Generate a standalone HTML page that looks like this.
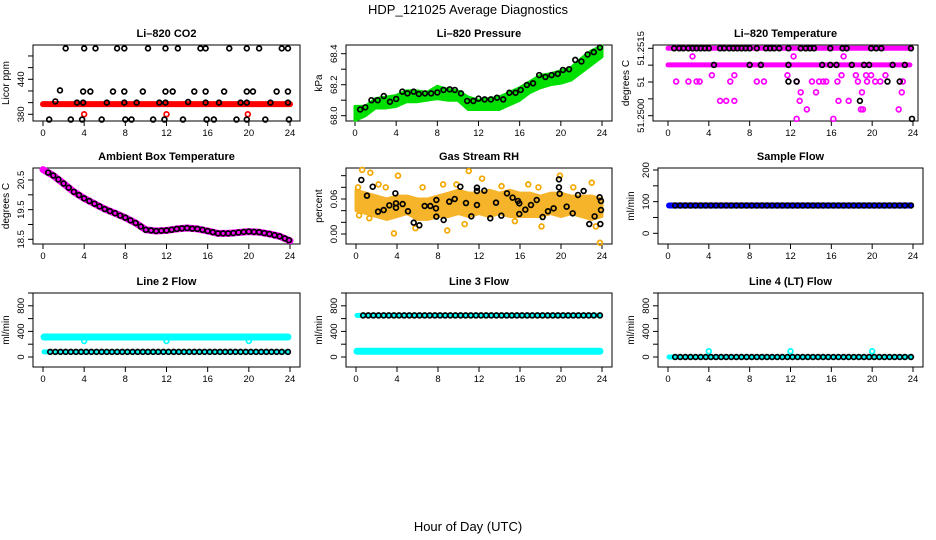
<!DOCTYPE html>
<html><head><meta charset="utf-8"><style>
html,body{margin:0;padding:0;background:#fff;}
svg{display:block;font-family:"Liberation Sans",sans-serif;}
</style></head><body>
<svg id="c" width="936" height="540" viewBox="0 0 936 540">
<text x="468" y="14" text-anchor="middle" font-size="13">HDP_121025  Average Diagnostics</text>
<text x="468" y="531" text-anchor="middle" font-size="13">Hour of Day (UTC)</text>
</svg>
<script>
// ---------- data ----------
const hoursHourly = [0,1,2,3,4,5,6,7,8,9,10,11,12,13,14,15,16,17,18,19,20,21,22,23,24];
const xTicks = [0,4,8,12,16,20,24];

// CO2
const co2RedHours = [0,24];
const co2RedVals = [397.5,397.5];
const co2TopHours = [2.2,4.0,5.1,7.2,7.9,10.2,11.9,13.1,15.3,15.8,18.1,19.8,21.0,23.2,23.8];
const co2TopVals = [493,493,493,493,493,493,493,493,493,493,493,493,493,493,493];
const co2MidHours = [1.65,3.9,4.6,6.8,7.9,9.7,11.9,12.6,14.7,15.8,17.6,19.8,20.4,22.7,23.8];
const co2MidVals = [421,419,419,419,419,419,419,419,419,419,419,419,419,419,419];
const co2LowHours = [1.2,3.3,3.9,6.2,7.9,9.1,11.3,11.9,14.1,15.8,17.1,19.2,19.8,22.1,23.8];
const co2LowVals = [402,400,400,400,400,400,400,400,401,400,400,400,400,400,400];
const co2BotHours = [0.6,2.7,3.8,5.7,8.0,8.6,10.7,11.8,13.6,15.9,16.6,18.8,19.8,21.6,23.9];
const co2BotVals = [371,371,371,371,371,371,371,371,371,371,371,371,371,371,371];
const co2RedPtHours = [4.0,12.0,19.9];
const co2RedPtVals = [380,380,380];

// Pressure
const presLo = [67.97,68.0,68.05,68.05,68.06,68.09,68.09,68.1,68.11,68.1,68.1,68.04,68.04,68.04,68.04,68.07,68.1,68.15,68.18,68.2,68.21,68.23,68.28,68.33,68.38];
const presHi = [68.06,68.06,68.11,68.12,68.13,68.16,68.16,68.15,68.19,68.17,68.16,68.12,68.1,68.11,68.12,68.15,68.18,68.22,68.26,68.27,68.29,68.31,68.37,68.42,68.45];
const presPtHours = [0.5,1,1.6,2.2,2.8,3.4,4,4.6,5.1,5.7,6.2,6.8,7.4,8,8.6,9.2,9.7,10.3,10.9,11.5,12,12.6,13.2,13.8,14.4,15,15.6,16.1,16.7,17.3,17.9,18.5,19.1,19.7,20.2,20.8,21.4,22,22.6,23.2,23.8];
const presPtVals = [68.04,68.054,68.10,68.10,68.127,68.09,68.108,68.155,68.144,68.155,68.14,68.144,68.144,68.15,68.166,68.17,68.166,68.144,68.095,68.095,68.11,68.105,68.105,68.116,68.105,68.148,68.148,68.166,68.198,68.209,68.262,68.25,68.262,68.27,68.295,68.30,68.36,68.35,68.395,68.41,68.44];

// Li-820 temperature
const tBand1Hours = [0,23.8];
const tBand1Vals = [51.2515,51.2515];
const tBand2Hours = [0,23.7];
const tBand2Vals = [51.25113,51.25113];
const tMagHours = [2.4,4.3,0.8,2.0,2.8,3.1,5.1,5.7,6.5,6.1,6.5,8.7,9.4,11.7,12.3,12.6,13.0,12.9,13.6,14.1,14.5,14.8,15.2,15.5,16.6,16.7,17.0,17.2,17.7,18.4,18.6,19.0,18.9,19.1,19.4,19.5,19.9,20.3,20.8,21.3,22.6,22.9,23.0,12.6,16.2];
const tMagVals = [51.25132,51.2509,51.25076,51.25076,51.25076,51.25076,51.25033,51.25033,51.25033,51.25076,51.2509,51.25076,51.25076,51.2509,51.25132,51.25076,51.25052,51.25033,51.25014,51.25076,51.25052,51.25076,51.25076,51.25076,51.25076,51.25033,51.2509,51.25132,51.25033,51.2509,51.25076,51.25052,51.25014,51.25014,51.2509,51.25076,51.2509,51.25076,51.25076,51.2509,51.25014,51.25052,51.25076,51.24993,51.24993];
const tBlkTopHours = [0.6,1.1,1.5,2.0,2.4,2.8,3.2,3.6,4.0,5.1,5.5,6.0,6.4,6.8,7.2,7.6,8.0,8.7,9.6,10.0,10.4,10.9,11.8,13.0,13.5,13.9,14.3,15.9,17.1,17.5,19.9,20.4,20.9,23.8];
const tBlkMidHours = [4.5,8.0,9.1,11.8,15.1,15.9,16.5,18.0,19.2,19.7,22.0,23.2];
const tBlkLowHours = [11.8,12.6,21.5,22.7,18.8,23.9];
const tBlkLowVals = [51.25076,51.25076,51.25076,51.25076,51.25033,51.24993];

// Ambient box temperature
const ambCurve = [20.85,20.65,20.38,20.1,19.88,19.7,19.52,19.38,19.23,19.05,18.82,18.78,18.8,18.85,18.88,18.85,18.78,18.7,18.7,18.73,18.76,18.74,18.68,18.6,18.45];
const ambPtHours = [0.5,1,1.5,2,2.5,3,3.5,4,4.5,5,5.5,6,6.5,7,7.5,8,8.5,9,9.5,10,10.5,11,11.5,12,12.5,13,13.5,14,14.5,15,15.5,16,16.5,17,17.5,18,18.5,19,19.5,20,20.5,21,21.5,22,22.5,23,23.5,23.9];
const ambPtVals = [20.75,20.65,20.52,20.38,20.24,20.1,19.99,19.88,19.79,19.7,19.61,19.52,19.45,19.38,19.3,19.23,19.14,19.05,18.93,18.82,18.8,18.78,18.79,18.8,18.82,18.85,18.87,18.88,18.86,18.85,18.82,18.78,18.74,18.7,18.7,18.7,18.71,18.73,18.75,18.76,18.75,18.74,18.71,18.68,18.64,18.6,18.53,18.47];

// Gas stream RH
const rhLo = [0.04,0.035,0.03,0.025,0.03,0.035,0.025,0.025,0.03,0.03,0.035,0.03,0.035,0.03,0.035,0.03,0.03,0.03,0.03,0.035,0.03,0.035,0.03,0.025,0.03];
const rhHi = [0.075,0.07,0.065,0.06,0.065,0.065,0.06,0.06,0.065,0.07,0.075,0.07,0.07,0.075,0.07,0.075,0.07,0.07,0.065,0.07,0.07,0.065,0.065,0.065,0.06];
const rhOrHours = [0.6,1.4,4.1,3.7,11,8.5,12.3,19.9,23,23.8,2.9,0.3,1.3,5.8,8.9,10.6,15.5,18.1,23.4,16.8,17.8,0.2,2.2,6.5,9.8,14.2,21.2];
const rhOrVals = [0.11,0.105,0.10,0.001,0.108,0.085,0.095,0.1,0.088,-0.015,0.08,0.032,0.027,0.01,0.006,0.017,0.022,0.013,0.013,0.085,0.08,0.08,0.085,0.08,0.085,0.082,0.08];
const rhBlkHours = [0.52,1.07,1.63,2.15,2.7,3.25,3.9,3.9,3.84,4.55,5.07,5.63,6.18,6.7,7.25,7.8,7.84,7.84,8.55,9.1,9.63,10.18,10.73,11.25,11.8,11.8,11.8,12.52,13.1,13.66,14.18,14.73,15.28,15.8,15.93,15.93,16.52,17.07,17.63,18.21,18.73,19.28,19.8,19.8,19.87,20.55,21.14,21.66,22.21,22.76,23.28,23.77,23.9,23.9,23.84];
const rhBlkVals = [0.0926,0.0657,0.0811,0.0383,0.0411,0.0491,0.0451,0.0526,0.0697,0.0514,0.0389,0.0194,0.0149,0.048,0.048,0.044,0.0297,0.0583,0.024,0.0554,0.06,0.0811,0.0531,0.0303,0.0794,0.0737,0.0497,0.0743,0.0269,0.0537,0.0314,0.0697,0.0623,0.0566,0.0526,0.0343,0.0417,0.0497,0.0583,0.0291,0.0389,0.044,0.0937,0.08,0.0691,0.0469,0.0354,0.0669,0.0737,0.0171,0.0303,0.0629,0.0566,0.0411,0.0171];

// Flows
const flowHours = [0.7,1.2,1.7,2.2,2.7,3.2,3.7,4.2,4.7,5.2,5.7,6.2,6.7,7.2,7.7,8.2,8.7,9.2,9.7,10.2,10.7,11.2,11.7,12.2,12.7,13.2,13.7,14.2,14.7,15.2,15.7,16.2,16.7,17.2,17.7,18.2,18.7,19.2,19.7,20.2,20.7,21.2,21.7,22.2,22.7,23.2,23.8];
const sampleBlueVals = [88,88];
const sampleBlackVal = 88;
const line2CyanHigh = 312;
const line2Black = 80;
const line2DipHours = [4,12,20];
const line2DipVals = [250,250,250];
const line3Black = 650;
const line3CyanLow = 90;
const line4Black = 0;
const line4SpikeHours = [4,12,20];
const line4SpikeVals = [90,90,90];

// ---------- drawing ----------
const NS = "http://www.w3.org/2000/svg";
const svg = document.getElementById('c');
function mk(tag, attrs, parent){
  const e = document.createElementNS(NS, tag);
  for (const k in attrs) e.setAttribute(k, attrs[k]);
  (parent||svg).appendChild(e);
  return e;
}
function makePanel(o){
  const g = mk('g', {});
  
  
  const sx = h => o.x0 + (h/24)*(o.x24 - o.x0);
  const sy = v => o.yp[0] + (v - o.yv[0])*(o.yp[1]-o.yp[0])/(o.yv[1]-o.yv[0]);
  const box = mk('rect', {x:o.box[0], y:o.box[1], width:o.box[2]-o.box[0], height:o.box[3]-o.box[1], fill:'none', stroke:'#000', 'stroke-width':1}, g);
  
  
  const t = mk('text', {x:(o.box[0]+o.box[2])/2, y:o.box[1]-8, 'text-anchor':'middle', 'font-size':11, 'font-weight':'bold'}, g);
  t.textContent = o.title;
  
  
  const xa = mk('g', {}, g);
  
  
  const yb = o.box[3];
  mk('line', {x1:sx(0), x2:sx(24), y1:yb, y2:yb, stroke:'#000'}, xa);
  xTicks.forEach(v=>{
    mk('line', {x1:sx(v), x2:sx(v), y1:yb, y2:yb+5, stroke:'#000'}, xa);
    const l = mk('text', {x:sx(v), y:yb+15, 'text-anchor':'middle', 'font-size':9.5}, xa);
    l.textContent = v;
    
    
  });
  const ya = mk('g', {}, g);
  
  
  const xl = o.box[0];
  mk('line', {x1:xl, x2:xl, y1:sy(o.ticks[0]), y2:sy(o.ticks[o.ticks.length-1]), stroke:'#000'}, ya);
  o.ticks.forEach((v,i)=>{
    const y = sy(v);
    mk('line', {x1:xl-5, x2:xl, y1:y, y2:y, stroke:'#000'}, ya);
    if (o.labels[i] !== '') {
      const l = mk('text', {x:xl-9, y:y, 'text-anchor':'middle', 'font-size':9.5, transform:`rotate(-90 ${xl-9} ${y})`}, ya);
      l.textContent = o.labels[i];
      
      
    }
  });
  const yt = mk('text', {x:xl-24, y:(o.box[1]+o.box[3])/2, 'text-anchor':'middle', 'font-size':10, transform:`rotate(-90 ${xl-24} ${(o.box[1]+o.box[3])/2})`}, g);
  yt.textContent = o.ytitle;
  
  
  const clip = mk('g', {}, g);
  
  
  return {sx, sy, g:clip};
}
function band(P, hrs, lo, hi, color, name){
  let pts = hrs.map((h,i)=>P.sx(h)+','+P.sy(hi[i]));
  pts = pts.concat(hrs.map((h,i)=>P.sx(h)+','+P.sy(lo[i])).reverse());
  const e = mk('polygon', {points:pts.join(' '), fill:color, stroke:color, 'stroke-width':3, 'stroke-linejoin':'round'}, P.g);
  
  
}
function thick(P, hrs, vals, color, w, name){
  const e = mk('polyline', {points:hrs.map((h,i)=>P.sx(h)+','+P.sy(vals[i])).join(' '), fill:'none', stroke:color, 'stroke-width':w, 'stroke-linecap':'round', 'stroke-linejoin':'round'}, P.g);
  
  
}
function pts(P, hrs, vals, color, name){
  hrs.forEach((h,i)=>{
    const e = mk('circle', {cx:P.sx(h), cy:P.sy(vals[i]), r:2.4, fill:'none', stroke:color, 'stroke-width':1.7}, P.g);
    
    
  });
}
const fill = (arr, v) => arr.map(()=>v);

// Panel 1: CO2
let P = makePanel({name:'co2-panel', title:'Li–820 CO2', box:[33,45,300,121], x0:43, x24:290, yv:[380,440], yp:[114.3,79.3], ticks:[380,400,420,440,460,480], labels:['380','','','440','',''], ytitle:'Licor ppm'});
thick(P, co2RedHours, co2RedVals, '#f00', 6, 'co2-red-band');
pts(P, co2RedPtHours, co2RedPtVals, '#f00', 'co2-red-point');
pts(P, co2TopHours, co2TopVals, '#000', 'co2-point');
pts(P, co2MidHours, co2MidVals, '#000', 'co2-point');
pts(P, co2LowHours, co2LowVals, '#000', 'co2-point');
pts(P, co2BotHours, co2BotVals, '#000', 'co2-point');

// Panel 2: Pressure
P = makePanel({name:'pressure-panel', title:'Li–820 Pressure', box:[346,45,612,121], x0:355, x24:602, yv:[68.0,68.4], yp:[115.7,53.7], ticks:[68.0,68.1,68.2,68.3,68.4], labels:['68.0','','68.2','','68.4'], ytitle:'kPa'});
band(P, hoursHourly, presLo, presHi, '#00e000', 'pressure-green-band');
pts(P, presPtHours, presPtVals, '#000', 'pressure-point');

// Panel 3: Li-820 temperature
P = makePanel({name:'li820-temperature-panel', title:'Li–820 Temperature', box:[653,45,918,121], x0:668, x24:913, yv:[51.2500,51.2515], yp:[115.7,48.3], ticks:[51.2500,51.250375,51.25075,51.251125,51.2515], labels:['51.2500','','51','','51.2515'], ytitle:'degrees C'});
thick(P, tBand1Hours, tBand1Vals, '#f0f', 5, 'temp-magenta-band');
thick(P, tBand2Hours, tBand2Vals, '#f0f', 5, 'temp-magenta-band');
pts(P, tMagHours, tMagVals, '#f0f', 'temp-magenta-point');
pts(P, tBlkTopHours, fill(tBlkTopHours, 51.2515), '#000', 'temp-point');
pts(P, tBlkMidHours, fill(tBlkMidHours, 51.25113), '#000', 'temp-point');
pts(P, tBlkLowHours, tBlkLowVals, '#000', 'temp-point');

// Panel 4: Ambient
P = makePanel({name:'ambient-temperature-panel', title:'Ambient Box Temperature', box:[33,168,300,244], x0:43, x24:290, yv:[18.5,20.5], yp:[239.3,180], ticks:[18.5,19.0,19.5,20.0,20.5], labels:['18.5','','19.5','','20.5'], ytitle:'degrees C'});
thick(P, hoursHourly, ambCurve, '#f0f', 7, 'ambient-magenta-band');
pts(P, ambPtHours, ambPtVals, '#000', 'ambient-point');

// Panel 5: RH
P = makePanel({name:'rh-panel', title:'Gas Stream RH', box:[346,168,612,244], x0:356, x24:602, yv:[0,0.06], yp:[234,199], ticks:[0,0.02,0.04,0.06,0.08,0.10], labels:['0.00','','','0.06','',''], ytitle:'percent'});
band(P, hoursHourly, rhLo, rhHi, '#f5b42a', 'rh-orange-band');
pts(P, rhOrHours, rhOrVals, '#f4a800', 'rh-orange-point');
pts(P, rhBlkHours, rhBlkVals, '#000', 'rh-point');

// Panel 6: Sample flow
P = makePanel({name:'sample-flow-panel', title:'Sample Flow', box:[658,168,923,244], x0:668, x24:913, yv:[0,200], yp:[233.3,170], ticks:[0,50,100,150,200], labels:['0','','100','','200'], ytitle:'ml/min'});
thick(P, [0.1,23.8], sampleBlueVals, '#0000ff', 6, 'sample-blue-band');
pts(P, flowHours, fill(flowHours, sampleBlackVal), '#000', 'sample-point');

// Panel 7: Line 2
P = makePanel({name:'line2-flow-panel', title:'Line 2 Flow', box:[33,293,300,367], x0:43, x24:290, yv:[0,1000], yp:[357,293], ticks:[0,200,400,600,800,1000], labels:['0','','400','','800',''], ytitle:'ml/min'});
thick(P, [0.1,23.8], [line2CyanHigh,line2CyanHigh], '#00ffff', 7, 'line2-cyan-band');
thick(P, [0.1,23.8], [line2Black,line2Black], '#00ffff', 5, 'line2-cyan-low');
pts(P, line2DipHours, line2DipVals, '#00ffff', 'line2-cyan-point');
pts(P, flowHours, fill(flowHours, line2Black), '#000', 'line2-point');

// Panel 8: Line 3
P = makePanel({name:'line3-flow-panel', title:'Line 3 Flow', box:[346,293,612,367], x0:356, x24:602, yv:[0,1000], yp:[357,293], ticks:[0,200,400,600,800,1000], labels:['0','','400','','800',''], ytitle:'ml/min'});
thick(P, [0.1,23.8], [line3CyanLow,line3CyanLow], '#00ffff', 7, 'line3-cyan-band');
thick(P, [0.1,23.8], [line3Black,line3Black], '#00ffff', 5, 'line3-cyan-high');
pts(P, flowHours, fill(flowHours, line3Black), '#000', 'line3-point');

// Panel 9: Line 4
P = makePanel({name:'line4-flow-panel', title:'Line 4 (LT) Flow', box:[658,293,923,367], x0:668, x24:913, yv:[0,1000], yp:[357,293], ticks:[0,200,400,600,800,1000], labels:['0','','400','','800',''], ytitle:'ml/min'});
thick(P, [0.1,23.8], [line4Black,line4Black], '#00ffff', 5, 'line4-cyan-band');
pts(P, line4SpikeHours, line4SpikeVals, '#00ffff', 'line4-cyan-point');
pts(P, flowHours, fill(flowHours, line4Black), '#000', 'line4-point');
</script>
</body></html>
